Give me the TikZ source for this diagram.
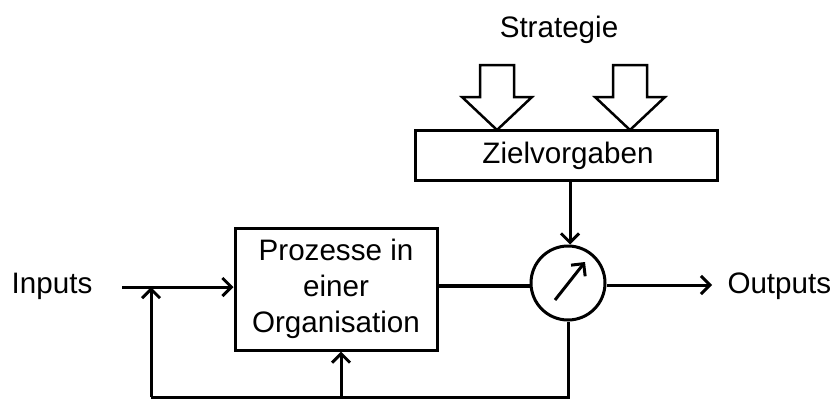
\documentclass[tikz,border=0pt]{standalone}
\usepackage{fontspec}
\setmainfont{Liberation Sans}
\usetikzlibrary{arrows.meta}
\begin{document}
\begin{tikzpicture}[x=1pt,y=-1pt,
  line width=3pt,
  lbl/.style={font=\fontsize{29.6}{36}\selectfont, inner sep=0pt},
  blk/.style={draw, line width=3pt, inner sep=0pt},
  conn/.style={-{Straight Barb[length=9pt,width=18pt,line width=3pt]}},
  fat/.style={draw, fill=white, line width=2.5pt, line join=miter}]
\useasboundingbox (0,0) rectangle (832,399);

% process block and controller block
\node[blk, minimum width=202pt, minimum height=122pt] (proc) at (336,289) {};
\node[lbl, align=center] (proctxt) at (336,289) {Prozesse in\\einer\\Organisation};
\node[blk, minimum width=302pt, minimum height=50pt] (ziel) at (566,155) {};
\node[lbl] (zieltxt) at (568,156) {Zielvorgaben};

% measuring element
\node[draw, circle, line width=3pt, minimum size=74pt, inner sep=0pt] (meas) at (568,283) {};
\coordinate (ptrA) at (555,300);
\coordinate (ptrB) at (585,262);
\draw[conn] (ptrA) -- (ptrB);

% labels
\node[lbl] (strat) at (559,30) {Strategie};
\node[lbl] (inp) at (52,286) {Inputs};
\node[lbl, anchor=west] (outp) at (726,286) {Outputs};

% strategy arrows
\foreach \cx/\nm in {497/sa, 630/sb}{
  \draw[fat] (\cx-17,65) -- (\cx+17,65) -- (\cx+17,97) -- (\cx+35,97)
    -- (\cx,130) -- (\cx-35,97) -- (\cx-17,97) -- cycle;
}

% connections
\coordinate (inStart) at (122,287);
\coordinate (fbL) at (151,287);
\coordinate (botL) at (151,397);
\coordinate (botM) at (341,397);
\coordinate (botR) at (568,397);
\coordinate (outEnd) at (712,285);

\draw[conn] (inStart) -- (proc.west |- inStart);
\draw[line width=3.6pt] (proc.east |- 0,286) -- (meas.west |- 0,286);
\draw[conn] (ziel.south -| 570,0) -- (meas.north -| 570,0);
\draw[conn] (meas.east |- outEnd) -- (outEnd);
\draw (meas.south) -- (botR) -- (botL);
\draw[conn] (botL) -- (fbL);
\draw[conn] (botM) -- (proc.south -| botM);
\end{tikzpicture}
\end{document}
